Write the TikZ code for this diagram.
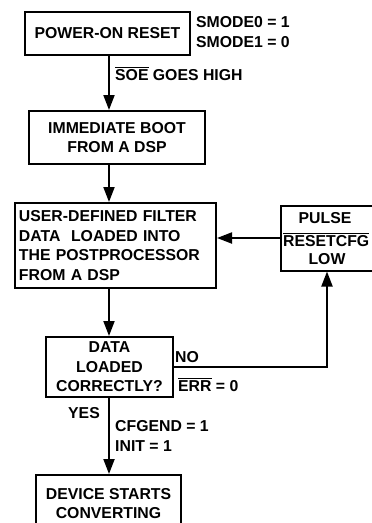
\documentclass[tikz,border=0pt]{standalone}
\usepackage{fontspec}
\setmainfont{Liberation Sans}
\usetikzlibrary{arrows.meta}
\newcommand\ovl[1]{\leavevmode\setbox0\hbox{#1}\rlap{\raise\dimexpr\ht0+1.6pt\relax\hbox{\vrule width\wd0 height 1.1pt depth 0pt}}\box0\relax}
\begin{document}
\begin{tikzpicture}[x=1pt,y=-1pt,
  font=\fontsize{15.8}{19.5}\selectfont\bfseries,
  box/.style={draw,line width=2pt,inner sep=0pt,align=center},
  arr/.style={line width=2pt,-{Triangle[length=15pt,width=11pt]}},
  lbl/.style={inner sep=0pt,align=left,anchor=west}]
\useasboundingbox (0,0) rectangle (372,523);
\begin{scope}
\clip (0,0) rectangle (372,523);
\node[box,minimum width=165pt,minimum height=43pt] (b1) at (107.5,33.5) {POWER-ON RESET};
\node[box,minimum width=176pt,minimum height=53pt] (b2) at (117,137.5) {IMMEDIATE BOOT\\FROM A DSP};
\node[box,minimum width=201pt,minimum height=85pt,text width=193pt,align=left] (b3) at (115.5,245.5) {USER-DEFINED FILTER\\DATA\ \ LOADED INTO\\THE POSTPROCESSOR\\FROM A DSP};
\node[box,minimum width=99pt,minimum height=65pt] (bp) at (330.5,238) {};
\node[box,minimum width=127pt,minimum height=60pt] (b4) at (109.5,367) {DATA\\LOADED\\CORRECTLY?};
\node[box,minimum width=145pt,minimum height=57pt] (b5) at (108.5,503.5) {DEVICE STARTS\\CONVERTING};
\end{scope}
\node[inner sep=0pt] (p1) at (325,218) {PULSE};
\node[inner sep=0pt,anchor=west] (p2) at (283,239.5) {\ovl{RESETCFG}};
\node[inner sep=0pt] (p3) at (327,259.5) {LOW};
\coordinate (tx) at (109,0);
\coordinate (rx) at (327,0);
\draw[arr] (b1.south -| tx) -- (b2.north -| tx);
\draw[arr] (b2.south -| tx) -- (b3.north -| tx);
\draw[arr] (b3.south -| tx) -- (b4.north -| tx);
\draw[arr] (b4.south -| tx) -- (b5.north -| tx);
\draw[arr] (bp.west) -- (b3.east |- bp.west);
\draw[arr] (b4.east) -| (bp.south -| rx);
\node[lbl] (s) at (196,32) {SMODE0 = 1\\SMODE1 = 0};
\node[lbl] (soe) at (115,74) {\ovl{SOE} GOES HIGH};
\node[lbl] (no) at (175,357) {NO};
\node[lbl] (err) at (178,385) {\ovl{ERR} = 0};
\node[inner sep=0pt] (yes) at (84,413) {YES};
\node[lbl] (cfg) at (115,436) {CFGEND = 1\\INIT = 1};
\end{tikzpicture}
\end{document}
